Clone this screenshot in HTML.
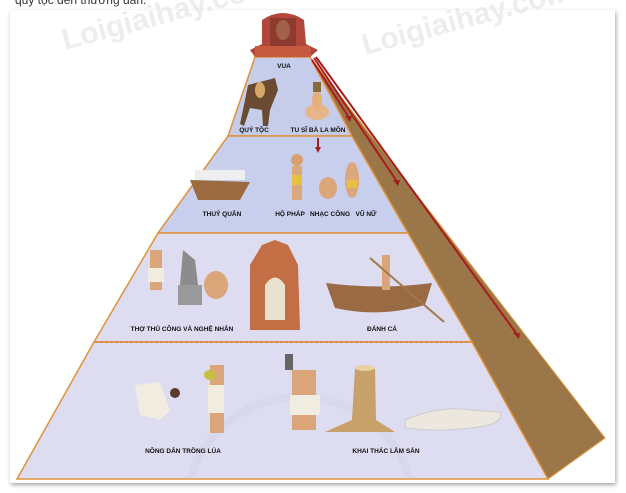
<!DOCTYPE html>
<html><head><meta charset="utf-8"><style>
html,body{margin:0;padding:0;background:#fff;width:626px;height:493px;overflow:hidden}
svg{display:block;overflow:hidden}
text{font-family:"Liberation Sans",sans-serif;font-weight:bold}
</style></head><body>
<svg width="626" height="493" viewBox="0 0 626 493" xmlns="http://www.w3.org/2000/svg">
<defs>
<filter id="sh" x="-3%" y="-3%" width="106%" height="106%"><feDropShadow dx="1" dy="2" stdDeviation="2" flood-color="#000" flood-opacity="0.35"/></filter>
</defs>
<text x="15" y="4" font-size="12" fill="#333" style="font-weight:normal">quý tộc đến thường dân.</text>
<rect x="10" y="10" width="605" height="473" fill="#fff" filter="url(#sh)"/>
<polygon points="310,57 605,438 548,479 472,342 408,233 352,136" fill="#9a7648" stroke="#e19a3c" stroke-width="1"/>
<polygon points="255,57 310,57 352,136 228,136" fill="#c5cdeb" stroke="#e0913a" stroke-width="1.5"/>
<polygon points="228,136 352,136 408,233 158,233" fill="#c8cfec" stroke="#e0913a" stroke-width="1.5"/>
<polygon points="158,233 408,233 472,342 94,342" fill="#dddcf0" stroke="#e0913a" stroke-width="1.5"/>
<polygon points="94,342 472,342 548,479 17,479" fill="#dddcf0" stroke="#e0913a" stroke-width="1.5"/>
<line x1="95" y1="342" x2="471" y2="342" stroke="#dc8a4a" stroke-width="2" stroke-dasharray="3,2"/>
<path d="M190,478 A115,115 0 0 1 410,478" fill="none" stroke="#d3d2e6" stroke-width="8" opacity="0.5"/>
<g stroke="#a81c1c" stroke-width="2" fill="#a81c1c">
<line x1="312" y1="60" x2="348" y2="116"/><line x1="314" y1="58" x2="396" y2="180"/><line x1="316" y1="57" x2="516" y2="333"/>
<line x1="318" y1="138" x2="318" y2="148"/>
</g>
<g fill="#a81c1c">
<polygon points="345,116 352,116 350,122"/><polygon points="393,180 400,180 398,186"/><polygon points="513,333 520,333 519,339"/><polygon points="315,147 321,147 318,153"/>
</g>
<path d="M262,20 Q283,6 304,20 L306,44 L318,50 L310,57 L255,57 L250,50 L262,44 Z" fill="#b0473a"/>
<rect x="270" y="18" width="26" height="30" fill="#8e3a2e"/><ellipse cx="283" cy="30" rx="7" ry="10" fill="#a0604a"/>
<rect x="255" y="46" width="56" height="11" fill="#c65a40"/>
<path d="M248,85 L275,78 L278,90 L270,110 L268,126 L263,126 L262,110 L250,108 L244,126 L240,124 L245,100 Z" fill="#6b4a32"/>
<ellipse cx="260" cy="90" rx="5" ry="8" fill="#d8a86a"/>
<ellipse cx="317" cy="112" rx="12" ry="8" fill="#e6b588"/><ellipse cx="317" cy="100" rx="5" ry="9" fill="#e3b07c"/><rect x="313" y="82" width="8" height="10" fill="#8a6a3a"/>
<path d="M190,180 L250,182 L240,200 L198,200 Z" fill="#9b6a40"/><rect x="195" y="170" width="50" height="10" fill="#eee"/>
<ellipse cx="297" cy="160" rx="6" ry="6" fill="#d8a070"/><rect x="292" y="166" width="10" height="34" fill="#dca77a"/><rect x="292" y="175" width="10" height="10" fill="#e8c040"/>
<ellipse cx="328" cy="188" rx="9" ry="11" fill="#dba57a"/><ellipse cx="352" cy="180" rx="7" ry="18" fill="#dca77a"/><rect x="347" y="180" width="10" height="8" fill="#e8c040"/>
<rect x="150" y="250" width="12" height="40" fill="#dba57a"/><rect x="148" y="268" width="16" height="14" fill="#f0ece0"/>
<path d="M183,250 L195,260 L198,285 L180,285 Z" fill="#8c8c8c"/><rect x="178" y="285" width="24" height="20" fill="#9a9a9a"/>
<ellipse cx="216" cy="285" rx="12" ry="14" fill="#dba57a"/>
<path d="M250,330 L250,265 L262,245 L275,240 L288,245 L298,265 L300,330 Z" fill="#c46e45"/><path d="M265,285 Q275,270 285,285 L285,320 L265,320 Z" fill="#e8e2d0"/>
<path d="M326,283 Q380,290 432,283 L425,305 Q380,318 335,308 Z" fill="#9a6a45"/><rect x="382" y="255" width="8" height="35" fill="#dba57a"/><line x1="370" y1="258" x2="444" y2="322" stroke="#a07a4a" stroke-width="2"/>
<path d="M135,385 L160,382 L170,410 L160,420 L140,415 Z" fill="#f0ece0"/><ellipse cx="175" cy="393" rx="5" ry="5" fill="#5a3a2a"/>
<rect x="210" y="365" width="14" height="68" fill="#dba57a"/><rect x="208" y="385" width="16" height="28" fill="#f0ece0"/><ellipse cx="210" cy="375" rx="6" ry="5" fill="#c6c040"/>
<rect x="292" y="370" width="24" height="60" fill="#dba57a"/><rect x="290" y="395" width="30" height="20" fill="#f0ece0"/><rect x="285" y="354" width="8" height="16" fill="#666"/>
<path d="M355,368 L375,368 L376,420 L395,432 L325,432 L352,420 Z" fill="#c8a06a"/><ellipse cx="365" cy="368" rx="10" ry="3" fill="#e8d0a0"/>
<path d="M405,420 Q440,405 470,410 L500,412 Q505,425 470,428 Q440,432 405,428 Z" fill="#ece8df" stroke="#ccc"/>
<g font-size="6.5" fill="#111" text-anchor="middle">
<text x="284" y="68">VUA</text>
<text x="254" y="132">QUÝ TỘC</text>
<text x="318" y="132">TU SĨ BÀ LA MÔN</text>
<text x="222" y="216">THUỶ QUÂN</text>
<text x="290" y="216">HỘ PHÁP</text>
<text x="330" y="216">NHẠC CÔNG</text>
<text x="366" y="216">VŨ NỮ</text>
<text x="182" y="331">THỢ THỦ CÔNG VÀ NGHỆ NHÂN</text>
<text x="382" y="331">ĐÁNH CÁ</text>
<text x="183" y="453">NÔNG DÂN TRỒNG LÚA</text>
<text x="386" y="453">KHAI THÁC LÂM SẢN</text>
</g>
<g font-size="30" fill="#ddd" opacity="0.5" font-family="Liberation Serif">
<text x="65" y="50" transform="rotate(-15 65 50)">Loigiaihay.com</text>
<text x="365" y="55" transform="rotate(-15 365 55)">Loigiaihay.com</text>
</g>
</svg>
</body></html>
